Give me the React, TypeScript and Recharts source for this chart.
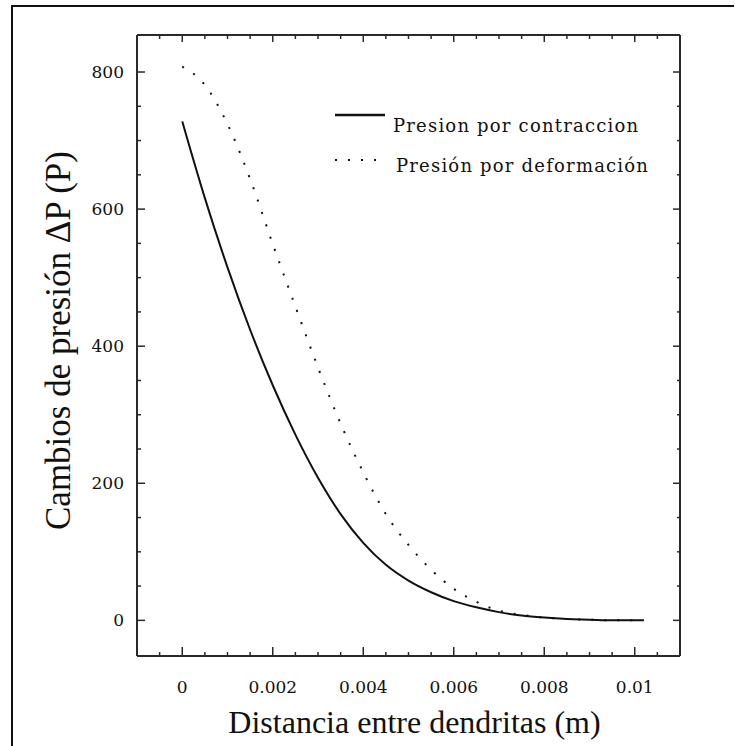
import React from "react"
import { LineChart, Line, XAxis, YAxis, Legend } from "recharts"

// distance between dendrites (m)
const xs = [0, 0.0005, 0.001, 0.0015, 0.002, 0.0025, 0.003, 0.0035, 0.004, 0.0045, 0.005,
  0.0055, 0.006, 0.0065, 0.007, 0.0075, 0.008, 0.0085, 0.009, 0.0095, 0.01, 0.0102]
// pressure change (P)
const contraccion = [728, 616, 515, 424, 343, 271, 208, 155, 113, 81, 58,
  41, 28, 19, 12, 7, 4, 2, 1, 0, 0, 0]
const deformacion = [808, 781, 724, 644, 549, 458, 369, 287, 216, 155, 110,
  74, 46, 27, 14, 8, 4, 2, 1, 0, 0, 0]

const xTicks = [-0.0005, 0, 0.0005, 0.001, 0.0015, 0.002, 0.0025, 0.003, 0.0035, 0.004, 0.0045,
  0.005, 0.0055, 0.006, 0.0065, 0.007, 0.0075, 0.008, 0.0085, 0.009, 0.0095, 0.01, 0.0105]
const xLabels = ["0", "0.002", "0.004", "0.006", "0.008", "0.01"]
const xMajor = [0, 0.002, 0.004, 0.006, 0.008, 0.01]

const yTicks = [0, 50, 100, 150, 200, 250, 300, 350, 400, 450, 500, 550, 600, 650, 700, 750, 800]
const yMajor = [0, 200, 400, 600, 800]

const seriesNames = ["Presion por contraccion", "Presión por deformación"]

const data = xs.map((x, i) => ({ x, contraccion: contraccion[i], deformacion: deformacion[i] }))

const INK = "#111"
const AXIS = "#2a2a2a"
const X_DOMAIN = [-0.001, 0.011]
const Y_DOMAIN = [-52, 854]
const tickFont = { fontFamily: "DejaVu Serif", fontSize: 17, fill: INK }
const titleFont = "Liberation Serif"

const majorIdx = (v: number, list: number[]) =>
  list.findIndex((m) => Math.abs(m - v) < 1e-9)

function BottomTick({ x, y, payload }: any) {
  const i = majorIdx(payload.value, xMajor)
  return (
    <g>
      <line x1={x} x2={x} y1={y} y2={y - (i >= 0 ? 9 : 4)} stroke={AXIS} strokeWidth={1.5} />
      {i >= 0 && (
        <text x={x} y={y + 37} textAnchor="middle" {...tickFont}>
          {xLabels[i]}
        </text>
      )}
    </g>
  )
}

function TopTick({ x, y, payload }: any) {
  const major = majorIdx(payload.value, xMajor) >= 0
  return <line x1={x} x2={x} y1={y} y2={y + (major ? 7 : 4)} stroke={AXIS} strokeWidth={1.5} />
}

function LeftTick({ x, y, payload }: any) {
  const major = majorIdx(payload.value, yMajor) >= 0
  return (
    <g>
      <line x1={x} x2={x + (major ? 8 : 4)} y1={y} y2={y} stroke={AXIS} strokeWidth={1.5} />
      {major && (
        <text x={x - 13} y={y + 6} textAnchor="end" {...tickFont}>
          {payload.value}
        </text>
      )}
    </g>
  )
}

function RightTick({ x, y, payload }: any) {
  const major = majorIdx(payload.value, yMajor) >= 0
  return <line x1={x} x2={x - (major ? 7 : 3)} y1={y} y2={y} stroke={AXIS} strokeWidth={1.5} />
}

function XTitle({ viewBox }: any) {
  const { x, y, width } = viewBox
  return (
    <text x={x + width / 2 + 6} y={y + 77} textAnchor="middle"
      fontFamily={titleFont} fontSize={32} fill={INK}>
      Distancia entre dendritas (m)
    </text>
  )
}

function YTitle({ viewBox }: any) {
  const { y, height } = viewBox
  const cx = 70
  const cy = y + height / 2 - 5
  return (
    <text x={cx} y={cy} transform={`rotate(-90 ${cx} ${cy})`} textAnchor="middle"
      fontFamily={titleFont} fontSize={35} fill={INK}>
      Cambios de presión ΔP (P)
    </text>
  )
}

function LegendBox() {
  const font = { fontFamily: "DejaVu Serif", fontSize: 18, fill: INK, letterSpacing: 1.2 }
  return (
    <svg width={340} height={80}>
      <line x1={5} x2={55} y1={15} y2={15} stroke={INK} strokeWidth={2.5} />
      <text x={63} y={32} {...font}>{seriesNames[0]}</text>
      <line x1={5} x2={57} y1={60} y2={60} stroke={INK} strokeWidth={2} strokeDasharray="2 11" />
      <text x={66} y={72} {...font}>{seriesNames[1]}</text>
    </svg>
  )
}

export default function App() {
  return (
    <div style={{ position: "absolute", left: 0, top: 0, width: 735, height: 746, background: "#fff" }}>
      <div style={{
        position: "absolute", left: 11, top: 5, width: 721, height: 741,
        borderTop: "2px solid #111", borderLeft: "2px solid #111",
      }} />
      <LineChart width={735} height={746} data={data}
        margin={{ top: 34, right: 54, bottom: 30, left: 0 }}>
        <XAxis dataKey="x" type="number" domain={X_DOMAIN} ticks={xTicks} interval={0}
          height={60} tickSize={0} tickMargin={0} tickLine={false}
          axisLine={{ stroke: AXIS, strokeWidth: 2 }} tick={<BottomTick />}
          label={<XTitle />} />
        <XAxis xAxisId="top" orientation="top" dataKey="x" type="number"
          domain={X_DOMAIN} ticks={xTicks} interval={0} height={1}
          tickSize={0} tickMargin={0} tickLine={false}
          axisLine={{ stroke: AXIS, strokeWidth: 2 }} tick={<TopTick />} />
        <YAxis type="number" domain={Y_DOMAIN} ticks={yTicks} interval={0} width={137}
          tickSize={0} tickMargin={0} tickLine={false}
          axisLine={{ stroke: AXIS, strokeWidth: 2 }} tick={<LeftTick />}
          label={<YTitle />} />
        <YAxis yAxisId="right" orientation="right" type="number" domain={Y_DOMAIN}
          ticks={yTicks} interval={0} width={1}
          tickSize={0} tickMargin={0} tickLine={false}
          axisLine={{ stroke: AXIS, strokeWidth: 2 }} tick={<RightTick />} />
        <Legend layout="vertical" align="center" verticalAlign="middle"
          wrapperStyle={{ left: 330, top: 100, width: 340 }} content={<LegendBox />} />
        <Line type="monotone" dataKey="contraccion" name={seriesNames[0]} stroke={INK}
          strokeWidth={2} dot={false} isAnimationActive={false} />
        {/* same domains on the top/right axes, so this series sits on the same scale */}
        <Line type="monotone" dataKey="deformacion" name={seriesNames[1]} xAxisId="top"
          yAxisId="right" stroke={INK} strokeWidth={2} strokeDasharray="2 11" dot={false}
          isAnimationActive={false} />
      </LineChart>
    </div>
  )
}
